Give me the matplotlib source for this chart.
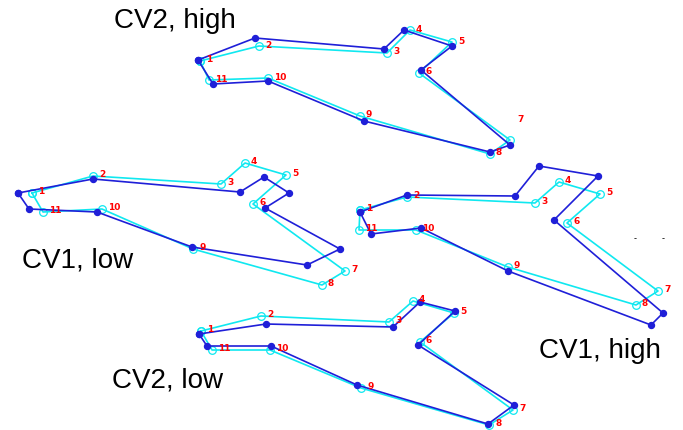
import matplotlib
matplotlib.use('Agg')
import matplotlib.pyplot as plt

# landmark outlines, pixel coordinates (x right, y down), points 1..11
cv2_high_blue_x = [198, 255, 384, 404, 452, 421, 510, 490, 364, 268, 213]
cv2_high_blue_y = [61, 39, 50, 31, 47, 71, 146, 153, 122, 82, 85]
cv2_high_cyan_x = [200, 259, 387, 410, 452, 419, 510, 490, 360, 268, 209]
cv2_high_cyan_y = [62, 47, 54, 31, 43, 74, 141, 155, 117, 79, 81]

cv1_low_blue_x = [18, 93, 240, 264, 289, 265, 340, 307, 192, 97, 29]
cv1_low_blue_y = [194, 180, 193, 178, 194, 209, 250, 266, 248, 213, 210]
cv1_low_cyan_x = [32, 93, 221, 245, 286, 253, 345, 322, 193, 102, 43]
cv1_low_cyan_y = [194, 177, 185, 164, 176, 205, 272, 286, 250, 210, 213]

cv1_high_blue_x = [360, 407, 515, 539, 598, 554, 663, 651, 508, 421, 371]
cv1_high_blue_y = [213, 196, 197, 167, 177, 221, 314, 326, 272, 229, 235]
cv1_high_cyan_x = [360, 407, 535, 559, 600, 567, 658, 636, 508, 416, 359]
cv1_high_cyan_y = [211, 198, 204, 183, 195, 224, 292, 306, 268, 231, 231]

cv2_low_blue_x = [199, 266, 393, 420, 455, 418, 514, 488, 357, 271, 207]
cv2_low_blue_y = [335, 325, 328, 303, 312, 346, 406, 425, 386, 347, 347]
cv2_low_cyan_x = [201, 261, 389, 413, 454, 420, 513, 489, 361, 270, 212]
cv2_low_cyan_y = [332, 317, 323, 302, 314, 343, 411, 426, 389, 351, 351]

point_labels = ['1', '2', '3', '4', '5', '6', '7', '8', '9', '10', '11']

titles = ['CV2, high', 'CV1, low', 'CV1, high', 'CV2, low']
title_x = [175, 78, 600, 168]
title_y = [28, 268, 358, 388]

shapes = [
    (cv2_high_blue_x, cv2_high_blue_y, cv2_high_cyan_x, cv2_high_cyan_y),
    (cv1_low_blue_x, cv1_low_blue_y, cv1_low_cyan_x, cv1_low_cyan_y),
    (cv1_high_blue_x, cv1_high_blue_y, cv1_high_cyan_x, cv1_high_cyan_y),
    (cv2_low_blue_x, cv2_low_blue_y, cv2_low_cyan_x, cv2_low_cyan_y),
]

blue = '#1f1fd8'
cyan = '#10e8f0'

fig = plt.figure(figsize=(6.83, 4.31), dpi=100)
ax = fig.add_axes([0, 0, 1, 1])
ax.set_xlim(0, 683)
ax.set_ylim(431, 0)
ax.axis('off')

for k, (bx, by, cx, cy) in enumerate(shapes):
    # close the outlines
    ax.plot(cx + cx[:1], cy + cy[:1], color=cyan, lw=1.2, marker='o',
            markersize=5.5, markerfacecolor='none', markeredgewidth=0.9, zorder=2)
    ax.plot(bx + bx[:1], by + by[:1], color=blue, lw=1.2, marker='o',
            markersize=4.3, markerfacecolor=blue, markeredgecolor=blue, zorder=3)
    for i, lab in enumerate(point_labels):
        off = (6, 2)
        if k == 0 and lab == '7':
            off = (7, 21)
        ax.annotate(lab, (cx[i], cy[i]), xytext=off, textcoords='offset pixels',
                    color='red', fontsize=6.5, fontweight='bold',
                    ha='left', va='center', zorder=4)

for t, x, y in zip(titles, title_x, title_y):
    ax.text(x, y, t, fontsize=20, family='Liberation Sans',
            ha='center', va='baseline', color='black')

# two stray tick marks
ax.text(635, 239, '-', fontsize=6, ha='center', va='center', color='black')
ax.text(663, 239, '-', fontsize=6, ha='center', va='center', color='black')

fig.savefig('out.png', dpi=100)
